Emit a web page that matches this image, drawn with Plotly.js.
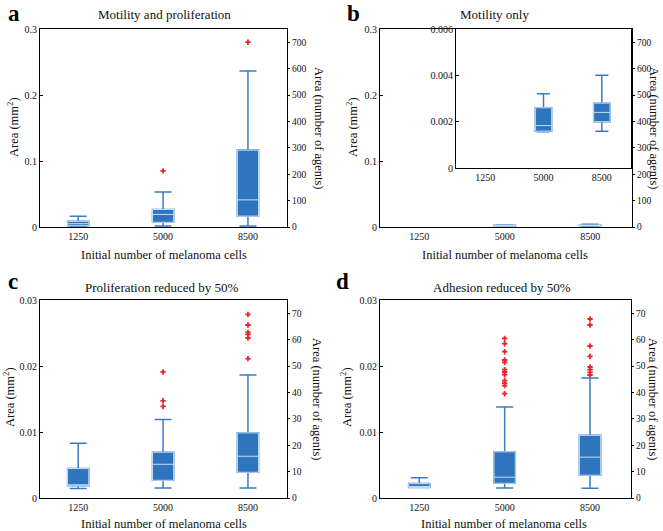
<!DOCTYPE html>
<html>
<head>
<meta charset="utf-8">
<script src="https://cdn.plot.ly/plotly-3.0.1.min.js"></script>
<style>html,body{margin:0;padding:0;background:#fff;}#chart{width:663px;height:531px;}</style>
</head>
<body>
<div id="chart"></div>
<script>
// ---------- data ----------
const cats = ['1250', '5000', '8500'];
const areaPerAgent = 0.0004; // mm² per agent (right axis conversion)

// a: Motility and proliferation
const aQ1  = [0.0020, 0.0071, 0.0165];
const aMed = [0.0050, 0.0190, 0.0411];
const aQ3  = [0.0086, 0.0265, 0.1165];
const aLo  = [0.0010, 0.0015, 0.0015];
const aHi  = [0.0162, 0.0530, 0.2364];
const aOutX = ['5000', '8500'];
const aOutY = [0.0850, 0.2800];

// b: Motility only
const bCats = ['5000', '8500'];
const bQ1  = [0.00159, 0.00200];
const bMed = [0.00183, 0.00240];
const bQ3  = [0.00260, 0.00280];
const bLo  = [0.00157, 0.00159];
const bHi  = [0.00321, 0.00400];

// c: Proliferation reduced by 50%
const cQ1  = [0.00185, 0.00268, 0.00390];
const cMed = [0.00200, 0.00511, 0.00633];
const cQ3  = [0.00446, 0.00694, 0.00987];
const cLo  = [0.00145, 0.00150, 0.00150];
const cHi  = [0.00830, 0.01190, 0.01864];
const cOutX = ['5000', '5000', '5000', '8500', '8500', '8500', '8500', '8500', '8500'];
const cOutY = [0.01910, 0.01473, 0.01387, 0.02782, 0.02621, 0.02509, 0.02479, 0.02424, 0.02111];

// d: Adhesion reduced by 50%
const dQ1  = [0.00160, 0.00223, 0.00345];
const dMed = [0.00170, 0.00315, 0.00619];
const dQ3  = [0.00218, 0.00700, 0.00949];
const dLo  = [0.00160, 0.00152, 0.00147];
const dHi  = [0.00305, 0.01379, 0.01818];
const dOutX = ['5000', '5000', '5000', '5000', '5000', '5000', '5000', '5000', '5000', '5000', '5000', '5000',
               '8500', '8500', '8500', '8500', '8500', '8500', '8500', '8500'];
const dOutY = [0.02418, 0.02338, 0.02217, 0.02091, 0.02055, 0.01944, 0.01909, 0.01868, 0.01777, 0.01742, 0.01702, 0.01580,
               0.02712, 0.02621, 0.02303, 0.02145, 0.01985, 0.01944, 0.01903, 0.01864];

// ---------- styles ----------
const BLUE = '#2e74be';
const WHISK = '#3a7cc4';
const LIGHT = '#c9def3';
const RED = '#e8262b';
const FONT = '"Liberation Serif", "Times New Roman", serif';
const W = 663, H = 531;
const px = v => v / W;
const py = v => 1 - v / H;

function boxes(xa, ya, x, q1, med, q3, lo, hi, width) {
  return [
    {type: 'box', xaxis: xa, yaxis: ya, x: x, q1: q1, median: med, q3: q3,
     lowerfence: lo, upperfence: hi, width: width, whiskerwidth: 0.8,
     fillcolor: BLUE, line: {color: WHISK, width: 1.5}, hoverinfo: 'skip', showlegend: false},
    {type: 'box', xaxis: xa, yaxis: ya, x: x, q1: q1, median: med, q3: q3,
     lowerfence: q1, upperfence: q3, width: width, whiskerwidth: 0,
     fillcolor: BLUE, line: {color: LIGHT, width: 1}, hoverinfo: 'skip', showlegend: false}
  ];
}
function outliers(xa, ya, x, y) {
  return {type: 'scatter', mode: 'markers', xaxis: xa, yaxis: ya, x: x, y: y,
    marker: {symbol: 'cross', size: 4.5, color: RED}, hoverinfo: 'skip', showlegend: false};
}
function empty(xa, ya) {
  return {type: 'scatter', mode: 'markers', xaxis: xa, yaxis: ya, x: [], y: [], showlegend: false};
}

const data = [].concat(
  boxes('x', 'y', cats, aQ1, aMed, aQ3, aLo, aHi, 0.25),
  [outliers('x', 'y', aOutX, aOutY)],
  boxes('x2', 'y2', bCats, bQ1, bMed, bQ3, bLo, bHi, 0.25),
  boxes('x5', 'y5', bCats, bQ1, bMed, bQ3, bLo, bHi, 0.28),
  boxes('x3', 'y3', cats, cQ1, cMed, cQ3, cLo, cHi, 0.25),
  [outliers('x3', 'y3', cOutX, cOutY)],
  boxes('x4', 'y4', cats, dQ1, dMed, dQ3, dLo, dHi, 0.25),
  [outliers('x4', 'y4', dOutX, dOutY)],
  [empty('x', 'y6'), empty('x2', 'y7'), empty('x3', 'y8'), empty('x4', 'y9')]
);

const tickFont = {family: FONT, size: 10, color: '#111'};
const rTickFont = {family: FONT, size: 9.5, color: '#111'};
function xax(d, anchor, range) {
  return {domain: d, anchor: anchor, type: 'category', categoryorder: 'array', categoryarray: cats,
    range: range, showline: true, linecolor: '#000', linewidth: 1, mirror: true, ticks: '',
    showgrid: false, zeroline: false, tickfont: tickFont, fixedrange: true};
}
function yax(d, anchor, top, tv, tt) {
  return {domain: d, anchor: anchor, range: [0, top], tickvals: tv, ticktext: tt,
    ticks: 'inside', ticklen: 3, tickcolor: '#000', showline: true, linecolor: '#000', linewidth: 1,
    showgrid: false, zeroline: false, tickfont: tickFont, fixedrange: true};
}
function yright(over, anchor, top, dt) {
  return {overlaying: over, anchor: anchor, side: 'right', range: [0, top / areaPerAgent], dtick: dt,
    ticks: 'outside', ticklen: 2, tickcolor: '#000', showline: true, linecolor: '#000', linewidth: 1,
    showgrid: false, zeroline: false, tickfont: rTickFont, fixedrange: true};
}

const xdA = [px(40), px(287)], xdB = [px(380), px(632)];
const xdC = [px(40), px(287)], xdD = [px(380), px(631)];
const ydTop = [py(227), py(29)], ydBot = [py(498), py(300)];

const layout = {
  width: W, height: H, margin: {l: 0, r: 0, t: 0, b: 0},
  paper_bgcolor: '#fff', plot_bgcolor: 'rgba(0,0,0,0)',
  showlegend: false, boxmode: 'overlay', font: {family: FONT, color: '#111'},
  xaxis:  xax(xdA, 'y', [-0.45, 2.46]),
  xaxis2: xax(xdB, 'y2', [-0.46, 2.49]),
  xaxis3: xax(xdC, 'y3', [-0.45, 2.46]),
  xaxis4: xax(xdD, 'y4', [-0.46, 2.48]),
  xaxis5: xax([px(456), px(631)], 'y5', [-0.5, 2.5]),
  yaxis:  yax(ydTop, 'x', 0.3, [0, 0.1, 0.2, 0.3], ['0', '0.1', '0.2', '0.3']),
  yaxis2: yax(ydTop, 'x2', 0.3, [0, 0.1, 0.2, 0.3], ['0', '0.1', '0.2', '0.3']),
  yaxis3: yax(ydBot, 'x3', 0.03, [0, 0.01, 0.02, 0.03], ['0', '0.01', '0.02', '0.03']),
  yaxis4: yax(ydBot, 'x4', 0.03, [0, 0.01, 0.02, 0.03], ['0', '0.01', '0.02', '0.03']),
  yaxis5: Object.assign(yax([py(168), py(29)], 'x5', 0.006, [0, 0.002, 0.004, 0.006], ['0', '0.002', '0.004', '0.006']), {mirror: true}),
  yaxis6: yright('y', 'x', 0.3, 100),
  yaxis7: yright('y2', 'x2', 0.3, 100),
  yaxis8: yright('y3', 'x3', 0.03, 10),
  yaxis9: yright('y4', 'x4', 0.03, 10),
  annotations: []
};

function ann(text, x, y, opts) {
  layout.annotations.push(Object.assign({text: text, xref: 'paper', yref: 'paper', x: px(x), y: py(y),
    xanchor: 'center', yanchor: 'middle', showarrow: false,
    font: {family: FONT, size: 12, color: '#111'}}, opts || {}));
}
// panel letters
const letterFont = {family: FONT, size: 23, color: '#000', weight: 'bold'};
ann('<b>a</b>', 14, 13, {font: letterFont});
ann('<b>b</b>', 353, 13, {font: letterFont});
ann('<b>c</b>', 13, 281, {font: letterFont});
ann('<b>d</b>', 342, 281, {font: letterFont});
// titles
const tf = {family: FONT, size: 13, color: '#111'};
ann('Motility and proliferation', 164, 15, {font: tf});
ann('Motility only', 494, 15, {font: tf});
ann('Proliferation reduced by 50%', 162, 287, {font: tf});
ann('Adhesion reduced by 50%', 502, 287, {font: tf});
// x titles
const xf = {family: FONT, size: 12.5, color: '#111'};
const xt = 'Initial number of melanoma cells';
ann(xt, 164, 255, {font: xf});
ann(xt, 505, 255, {font: xf});
ann(xt, 164, 524, {font: xf});
ann(xt, 504, 524, {font: xf});
// left y titles
const yl = 'Area (mm<sup>2</sup>)';
ann(yl, 13, 127, {font: xf, textangle: -90});
ann(yl, 352, 127, {font: xf, textangle: -90});
ann(yl, 9, 397, {font: xf, textangle: -90});
ann(yl, 346, 397, {font: xf, textangle: -90});
// right y titles
const yr = 'Area (number of agents)';
ann(yr, 319, 128, {font: xf, textangle: 90});
ann(yr, 654, 128, {font: xf, textangle: 90});
ann(yr, 317, 399, {font: xf, textangle: 90});
ann(yr, 653, 399, {font: xf, textangle: 90});

Plotly.newPlot('chart', data, layout, {displayModeBar: false, staticPlot: true});
</script>
</body>
</html>
